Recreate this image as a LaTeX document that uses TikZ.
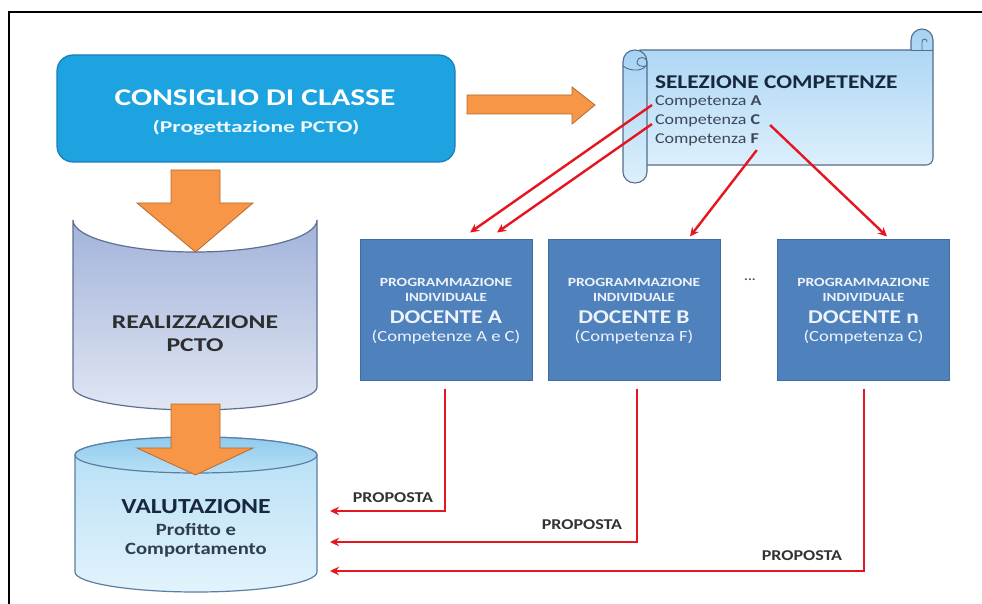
\documentclass[tikz,border=0pt]{standalone}
\usepackage{fontspec}
\setmainfont{Carlito}[FakeStretch=1.2]
\usetikzlibrary{arrows.meta,calc}
\definecolor{consfill}{HTML}{1CA3E0}
\definecolor{consdraw}{HTML}{1B7DBA}
\definecolor{orfill}{HTML}{F79646}
\definecolor{ordraw}{HTML}{B56A30}
\definecolor{docfill}{HTML}{4F81BD}
\definecolor{docdraw}{HTML}{3F6D9E}
\definecolor{doctext}{HTML}{EEF3FA}
\definecolor{redline}{HTML}{E5161F}
\definecolor{navy}{HTML}{18283C}
\definecolor{scrolldraw}{HTML}{526D8E}
\definecolor{scrolltop}{HTML}{A6D3F3}
\definecolor{scrollbot}{HTML}{DCEFFC}
\definecolor{cylAdraw}{HTML}{5D6F93}
\definecolor{cylAtop}{HTML}{A2B3DA}
\definecolor{cylAbot}{HTML}{E0E6F3}
\definecolor{cylBdraw}{HTML}{5B7EA2}
\definecolor{cylBtop}{HTML}{B4DEF5}
\definecolor{cylBbot}{HTML}{E2F3FC}
\definecolor{cylBtopE}{HTML}{8FCBEE}
\definecolor{cylBtopE2}{HTML}{B8E0F6}
\newcommand\hstretch[2]{\scalebox{#1}[1]{#2}}
\begin{document}
\begin{tikzpicture}[x=1pt,y=-1pt,
  consbox/.style={draw=consdraw,fill=consfill,line width=1.2pt,rounded corners=16pt},
  blockarrow/.style={draw=ordraw,fill=orfill,line width=0.8pt,line join=miter},
  docbox/.style={draw=docdraw,fill=docfill,line width=1pt,minimum width=172pt,minimum height=141pt,inner sep=0pt},
  txt/.style={inner sep=0pt,outer sep=0pt},
  redarrow/.style={draw=redline,line width=2.4pt,-{Stealth[length=9pt,width=8.5pt]}},
  scrollshape/.style={draw=scrolldraw,line width=1.1pt,top color=scrolltop,bottom color=scrollbot},
  proplabel/.style={txt,font=\bfseries\fontsize{15}{15}\selectfont,text=black!80},
]
\useasboundingbox (0,0) rectangle (982,604);
\clip (0,0) rectangle (982,604);
\fill[white] (0,0) rectangle (982,604);
\draw[line width=1.4pt] (9,620) -- (9,12) -- (1000,12);

% Consiglio di classe
\node[consbox,minimum width=398pt,minimum height=107pt] (cons) at (256,108.5) {};
\node[txt,font=\bfseries\fontsize{24}{24}\selectfont,text=white] (consT) at (255,98) {\hstretch{1.09}{CONSIGLIO DI CLASSE}};
\node[txt,font=\bfseries\fontsize{16.5}{16.5}\selectfont,text=white!92!consfill] (consS) at (256,128) {\hstretch{1.19}{(Progettazione PCTO)}};

% right block arrow
\draw[blockarrow] (467,95) -- (572,95) -- (572,87) -- (595,105) -- (572,124) -- (572,114) -- (467,114) -- cycle;

% scroll
\draw[scrollshape] (640,50) -- (911,50) -- (911,40) .. controls (911,34) and (916,29) .. (922,29) .. controls (928,29) and (933,34) .. (933,40) -- (933,158) .. controls (933,162) and (930,165) .. (926,165) -- (645,165) -- cycle;
\draw[scrolldraw,line width=0.9pt] (911,50) -- (933,50);
\draw[scrolldraw,line width=0.9pt] (922,50) -- (922,42) .. controls (922,38) and (927,38) .. (927,42);
\draw[scrollshape] (623,62) -- (623,172) .. controls (623,178) and (628,183) .. (635,183) .. controls (642,183) and (647,178) .. (647,172) -- (647,62) .. controls (647,55) and (642,50) .. (635,50) .. controls (628,50) and (623,55) .. (623,62) -- cycle;
\draw[scrolldraw,line width=0.9pt] (623,66) .. controls (630,72) and (647,72) .. (647,62);
\draw[scrolldraw,line width=0.9pt] (647,62) .. controls (647,56) and (637,56) .. (637,62) .. controls (637,66) and (642,67) .. (647,66);

\node[txt,anchor=west,font=\bfseries\fontsize{19.5}{19.5}\selectfont,text=navy] (selez) at (655,82) {SELEZIONE COMPETENZE};
\node[txt,anchor=west,font=\fontsize{15}{15}\selectfont,text=navy!85] (compA) at (655,102) {Competenza \textbf{A}};
\node[txt,anchor=west,font=\fontsize{15}{15}\selectfont,text=navy!85] (compC) at (655,121) {Competenza \textbf{C}};
\node[txt,anchor=west,font=\fontsize{15}{15}\selectfont,text=navy!85] (compF) at (655,140) {Competenza \textbf{F}};

% Realizzazione cylinder
\draw[draw=cylAdraw,line width=1.2pt,top color=cylAtop,bottom color=cylAbot]
  (73,220) .. controls (73,237.7) and (127.6,252) .. (195,252) .. controls (262.4,252) and (317,237.7) .. (317,220)
  -- (317,387) .. controls (317,399.7) and (262.4,410) .. (195,410) .. controls (127.6,410) and (73,399.7) .. (73,387) -- cycle;
\node[txt,font=\bfseries\fontsize{19.5}{19.5}\selectfont,text=black!82] (realT) at (195,322) {\hstretch{1.1}{REALIZZAZIONE}};
\node[txt,font=\bfseries\fontsize{19.5}{19.5}\selectfont,text=black!82] (realP) at (195,345) {\hstretch{1.1}{PCTO}};

% Valutazione cylinder
\draw[draw=cylBdraw,line width=1.2pt,top color=cylBtop,bottom color=cylBbot]
  (75,455) -- (75,572) .. controls (75,583) and (130,592) .. (196,592) .. controls (262,592) and (317,583) .. (317,572)
  -- (317,455) .. controls (317,445) and (262,437) .. (196,437) .. controls (130,437) and (75,445) .. (75,455) -- cycle;
\draw[draw=cylBdraw,line width=1.2pt,top color=cylBtopE,bottom color=cylBtopE2] (196,455) ellipse [x radius=121pt,y radius=18pt];
\node[txt,font=\bfseries\fontsize{21.5}{21.5}\selectfont,text=navy] (valT) at (196,507) {VALUTAZIONE};
\node[txt,font=\bfseries\fontsize{17.2}{17.2}\selectfont,text=navy!90] (valP) at (196,530) {Profitto e};
\node[txt,font=\bfseries\fontsize{17.2}{17.2}\selectfont,text=navy!90] (valC) at (196,550) {Comportamento};

% orange down arrows
\draw[blockarrow] (171,170) -- (220,170) -- (220,203) -- (253,203) -- (195.5,252) -- (137,203) -- (171,203) -- cycle;
\draw[blockarrow] (171,404) -- (220,404) -- (220,448) -- (253,448) -- (195.5,475) -- (137,448) -- (171,448) -- cycle;

% docente boxes
\node[docbox] (docA) at (446,309.5) {};
\node[docbox] (docB) at (634,309.5) {};
\node[docbox] (docN) at (863.5,309.5) {};
\foreach \b/\n/\c in {docA/A/Competenze A e C, docB/B/Competenza F, docN/n/Competenza C}{
  \node[txt,font=\bfseries\fontsize{12.5}{12.5}\selectfont,text=doctext] (\b-p) at ($(\b)+(0,-27.5)$) {\hstretch{1.04}{PROGRAMMAZIONE}};
  \node[txt,font=\bfseries\fontsize{12.5}{12.5}\selectfont,text=doctext] (\b-i) at ($(\b)+(0,-12.5)$) {INDIVIDUALE};
  \node[txt,font=\bfseries\fontsize{19.5}{19.5}\selectfont,text=doctext] (\b-d) at ($(\b)+(0,8)$) {DOCENTE \n};
  \node[txt,font=\fontsize{15.5}{15.5}\selectfont,text=doctext] (\b-c) at ($(\b)+(0,28)$) {(\c)};
}
\node[txt,font=\bfseries\fontsize{12}{12}\selectfont,text=black!70] (dots) at (750,280) {...};

% red selection arrows
\draw[redarrow] ($(compA.west)+(-3,3)$) -- ($(docA.north)+(24,-6)$);
\draw[redarrow] ($(compC.west)+(-3,3)$) -- ($(docA.north)+(51,-6)$);
\draw[redarrow] ($(compF.south east)+(-2,4)$) -- ($(docB.north)+(56,-2)$);
\draw[redarrow] ($(compC.east)+(10,4)$) -- ($(docN.north)+(23.5,-2)$);

% proposta arrows
\coordinate (inA) at (330,511);
\coordinate (inB) at (330,542);
\coordinate (inN) at (330,571);
\draw[redarrow,line join=miter] ($(docA.south)+(-1,8)$) |- (inA);
\draw[redarrow,line join=miter] ($(docB.south)+(3,8)$) |- (inB);
\draw[redarrow,line join=miter] ($(docN.south)+(0.5,8)$) |- (inN);
\node[proplabel] (propA) at (393,498) {PROPOSTA};
\node[proplabel] (propB) at (582,525) {PROPOSTA};
\node[proplabel] (propN) at (802,556) {PROPOSTA};
\end{tikzpicture}
\end{document}
